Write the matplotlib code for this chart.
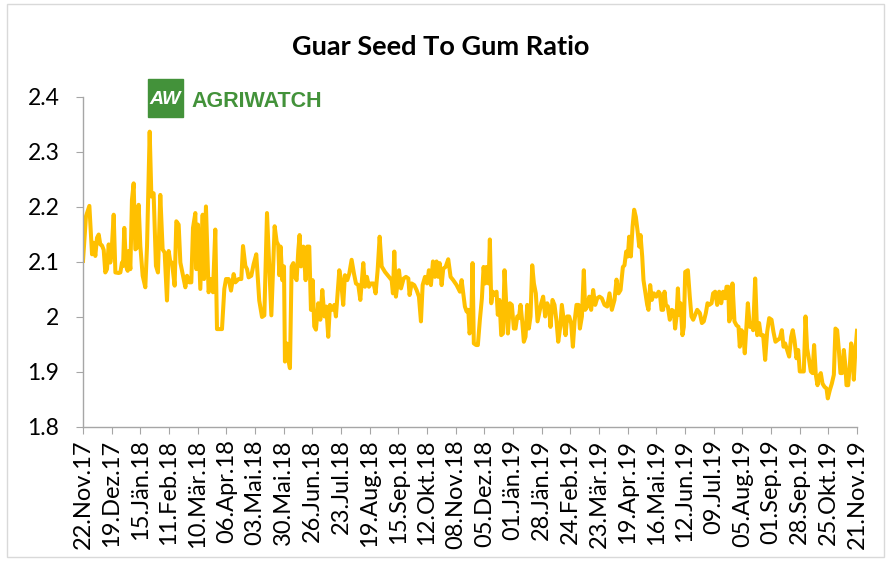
import numpy as np
import matplotlib.pyplot as plt
from matplotlib.patches import Rectangle

# day offsets counted from 22.Nov.17 and the seed/gum ratio
days_a = [0, 2.8, 6.0, 8.5, 10.0, 11.6, 13.2, 14.8, 16.3, 17.9,
          19.5, 21.0, 22.6, 24.2, 25.7, 26.7, 28.9, 30.5, 33.6, 35.2,
          36.7, 37.7, 38.9, 40.5, 42.1, 43.0, 44.6, 46.1, 47.7, 49.3,
          50.9, 52.4, 54.0, 56.2, 58.7, 60.3, 62.8, 64.4, 66.5, 68.7,
          70.6, 72.8, 75.0, 76.9, 79.1, 80.7, 82.3, 83.8, 86.3, 87.9,
          90.1, 91.7, 93.9, 96.4, 98.0, 100.1, 102.0, 103.6, 105.8, 106.7,
          108.3, 110.5, 112.7, 114.0, 115.8, 118.3, 120.5, 122.4, 124.6, 126.2,
          130.9, 133.1, 134.7, 137.2, 139.4, 141.9, 143.5, 146.6, 149.1, 150.7,
          152.9, 154.5, 156.0, 158.5, 160.7, 163.2, 166.0, 168.6, 170.8, 173.3,
          177.4, 180.5]
ratio_a = [2.102, 2.183, 2.202, 2.114, 2.135, 2.111, 2.144, 2.150, 2.132, 2.130,
           2.122, 2.081, 2.087, 2.132, 2.099, 2.111, 2.186, 2.081, 2.080, 2.081,
           2.099, 2.093, 2.162, 2.093, 2.084, 2.120, 2.087, 2.213, 2.243, 2.123,
           2.126, 2.204, 2.129, 2.075, 2.054, 2.129, 2.337, 2.219, 2.225, 2.093,
           2.081, 2.222, 2.123, 2.117, 2.030, 2.120, 2.099, 2.099, 2.057, 2.174,
           2.168, 2.099, 2.078, 2.054, 2.075, 2.063, 2.063, 2.162, 2.189, 2.087,
           2.168, 2.051, 2.186, 2.069, 2.201, 2.045, 2.069, 2.045, 2.159, 1.978,
           1.978, 2.051, 2.069, 2.069, 2.048, 2.078, 2.063, 2.069, 2.069, 2.129,
           2.093, 2.087, 2.072, 2.075, 2.096, 2.114, 2.030, 2.000, 2.003, 2.189,
           2.003, 2.165]

days_b = [182.4, 183.9, 184.9, 186.1, 187.7, 189.3, 190.2, 191.8, 193.4, 194.9,
          196.5, 198.1, 199.6, 201.2, 202.8, 204.0, 205.3, 207.5, 209.7, 211.2,
          213.1, 214.7, 216.3, 217.8, 219.4, 221.6, 223.5, 225.4, 227.3, 229.1,
          231.0, 232.6, 234.8, 236.7, 238.2, 239.8, 241.4, 243.0, 245.1, 246.7,
          248.9, 250.8, 253.0, 255.2, 257.1, 259.3, 261.2, 264.0, 265.6, 267.4,
          269.3, 271.2, 273.7, 275.6, 277.5, 279.4, 281.3, 284.4, 288.2, 290.7,
          291.9, 293.2, 294.7, 296.3, 297.6, 299.5, 302.0, 304.2, 306.4, 307.6,
          309.5, 312.0, 314.2, 316.4, 318.3, 319.9, 322.1, 324.0, 325.8, 327.7,
          329.6, 331.5, 333.0, 334.6, 335.9, 337.8, 339.3, 341.5, 344.0, 346.2,
          348.7, 351.9, 355.0, 356.6, 358.2, 359.7, 361.3, 362.9]
ratio_b = [2.137, 2.131, 2.076, 2.128, 2.067, 2.092, 1.919, 1.952, 1.922, 1.907,
           2.092, 2.098, 2.073, 2.067, 2.122, 2.149, 2.092, 2.128, 2.067, 2.128,
           2.128, 2.013, 2.067, 1.983, 1.977, 2.025, 1.995, 2.049, 2.001, 2.019,
           1.964, 2.022, 2.013, 2.022, 2.001, 2.043, 2.085, 2.067, 2.022, 2.076,
           2.067, 2.079, 2.104, 2.079, 2.061, 2.058, 2.031, 2.098, 2.055, 2.073,
           2.055, 2.061, 2.061, 2.043, 2.085, 2.146, 2.092, 2.082, 2.073, 2.067,
           2.043, 2.119, 2.037, 2.061, 2.085, 2.052, 2.070, 2.073, 2.070, 2.040,
           2.061, 2.058, 2.049, 2.037, 1.992, 2.058, 2.073, 2.061, 2.085, 2.058,
           2.101, 2.073, 2.101, 2.073, 2.098, 2.058, 2.088, 2.091, 2.105, 2.073,
           2.067, 2.058, 2.046, 2.067, 2.043, 2.019, 2.010, 2.013]

days_c = [364.1, 365.6, 366.9, 368.1, 370.3, 371.9, 373.8, 375.7, 377.3, 378.8,
          380.1, 382.0, 383.2, 384.5, 386.0, 387.6, 389.5, 390.7, 392.3, 393.9,
          395.5, 397.0, 398.6, 400.2, 402.1, 403.9, 405.8, 407.4, 409.0, 410.5,
          412.1, 413.7, 415.2, 416.8, 418.4, 419.9, 421.5, 423.1, 424.7, 426.5,
          428.1, 430.0, 431.6, 433.4, 435.3, 437.2, 439.1, 440.3, 442.2, 444.1,
          446.0, 447.6, 449.5, 451.0, 452.9, 454.5, 456.0, 457.9, 459.8, 461.4,
          463.0, 464.8, 466.7, 468.0, 469.9, 471.7, 473.0, 474.9, 476.8, 478.6,
          480.5, 482.4, 484.3, 486.5, 488.7, 491.2, 493.7, 495.9, 498.1, 500.6,
          502.5, 504.4, 506.3, 508.5, 510.0, 511.6, 513.2, 514.4, 516.0, 517.6,
          519.1, 520.7, 522.6, 523.9, 525.1, 526.7, 527.9, 529.8, 531.4, 532.6,
          534.2, 535.8, 537.7, 539.9, 542.1]
ratio_c = [1.970, 1.988, 2.098, 1.952, 1.949, 1.949, 1.995, 2.034, 2.091, 2.061,
           2.091, 2.061, 2.141, 2.025, 2.046, 2.040, 2.046, 2.004, 2.031, 1.967,
           1.970, 2.085, 2.025, 1.970, 2.025, 2.022, 1.979, 1.979, 2.001, 1.998,
           2.022, 1.992, 1.955, 1.964, 2.022, 1.979, 2.001, 2.094, 2.061, 2.043,
           1.992, 2.010, 2.025, 2.037, 2.001, 2.025, 2.016, 1.982, 2.031, 2.022,
           1.992, 1.955, 1.982, 2.022, 1.992, 1.967, 2.001, 2.001, 1.988, 1.946,
           1.992, 2.022, 2.022, 1.979, 2.001, 2.085, 2.013, 2.019, 2.037, 2.013,
           2.049, 2.022, 2.034, 2.037, 2.034, 2.022, 2.019, 2.043, 2.013, 2.031,
           2.068, 2.043, 2.049, 2.091, 2.094, 2.119, 2.110, 2.146, 2.110, 2.164,
           2.195, 2.182, 2.152, 2.128, 2.149, 2.110, 2.067, 2.043, 2.022, 2.013,
           2.058, 2.031, 2.043, 2.037, 2.046]

days_d = [543.3, 544.9, 546.4, 547.7, 549.0, 550.8, 552.7, 554.6, 556.5, 557.7,
          559.0, 560.3, 561.5, 562.8, 564.6, 565.9, 567.2, 569.7, 571.5, 573.1,
          574.7, 576.6, 578.5, 581.0, 582.9, 584.7, 586.6, 588.2, 589.8, 592.0,
          593.5, 595.4, 597.3, 599.2, 601.1, 602.9, 604.8, 606.1, 607.7, 608.6,
          610.2, 611.7, 613.6, 615.5, 617.4, 618.6, 620.2, 621.8, 623.3, 624.9,
          626.2, 628.1, 629.6, 631.2, 633.1, 635.0, 636.8, 638.4, 640.6, 642.5,
          644.4, 646.3, 648.5, 650.3, 652.2, 654.1, 656.3, 658.2, 659.8, 661.3,
          663.2, 665.1, 667.0, 668.5, 670.1, 672.0, 673.6, 675.1, 677.0, 678.9,
          680.5, 682.0, 683.9, 685.5, 687.1, 688.6, 690.2, 691.8, 693.3, 694.9,
          696.5, 698.4, 700.3, 701.5, 703.4, 705.3, 707.2, 708.7, 710.3, 711.9,
          713.4, 715.0, 716.6, 718.1, 719.1, 720.7, 722.2, 723.5, 724.7, 726.0,
          727.3, 729.0]
ratio_d = [2.043, 2.013, 2.013, 2.046, 2.022, 2.019, 1.995, 2.013, 2.010, 1.979,
           2.001, 2.052, 2.004, 2.025, 1.967, 1.982, 2.082, 2.085, 2.037, 2.001,
           1.995, 2.004, 2.013, 2.007, 1.989, 1.992, 2.007, 2.025, 2.022, 2.025,
           2.043, 2.046, 2.022, 2.046, 2.025, 2.046, 2.034, 2.055, 2.055, 1.992,
           2.001, 2.061, 1.992, 1.985, 1.982, 1.946, 1.976, 1.970, 1.934, 1.985,
           2.025, 1.982, 1.989, 1.976, 2.070, 1.967, 1.989, 1.967, 1.967, 1.922,
           1.973, 1.998, 1.995, 1.973, 1.955, 1.958, 1.961, 1.976, 1.946, 1.952,
           1.940, 1.928, 1.964, 1.976, 1.958, 1.925, 1.940, 1.901, 1.901, 1.901,
           2.001, 1.943, 1.922, 1.901, 1.898, 1.949, 1.895, 1.876, 1.892, 1.898,
           1.879, 1.873, 1.870, 1.852, 1.867, 1.879, 1.895, 1.979, 1.976, 1.940,
           1.898, 1.898, 1.940, 1.910, 1.876, 1.876, 1.910, 1.952, 1.940, 1.886,
           1.934, 1.975]

tick_days = list(range(0, 730, 27))
tick_labels = ['22.Nov.17', '19.Dez.17', '15.Jän.18', '11.Feb.18', '10.Mär.18',
               '06.Apr.18', '03.Mai.18', '30.Mai.18', '26.Jun.18', '23.Jul.18',
               '19.Aug.18', '15.Sep.18', '12.Okt.18', '08.Nov.18', '05.Dez.18',
               '01.Jän.19', '28.Jän.19', '24.Feb.19', '23.Mär.19', '19.Apr.19',
               '16.Mai.19', '12.Jun.19', '09.Jul.19', '05.Aug.19', '01.Sep.19',
               '28.Sep.19', '25.Okt.19', '21.Nov.19']
y_ticks = [1.8, 1.9, 2.0, 2.1, 2.2, 2.3, 2.4]
y_labels = ['1.8', '1.9', '2', '2.1', '2.2', '2.3', '2.4']

days = np.concatenate([days_a, days_b, days_c, days_d])
ratio = np.concatenate([ratio_a, ratio_b, ratio_c, ratio_d])
assert len(days) == len(ratio)

plt.rcParams['font.family'] = ['Lato', 'DejaVu Sans']

W, H = 890, 565
fig = plt.figure(figsize=(W / 100, H / 100), dpi=100)
ax = fig.add_axes([83 / W, 1 - 427 / H, (857 - 83) / W, (427 - 97) / H])

ax.plot(days, ratio, color='#FFC000', lw=2.9, solid_joinstyle='round')

ax.set_xlim(0, 729)
ax.set_ylim(1.8, 2.4)
ax.set_yticks(y_ticks)
ax.set_yticklabels(y_labels)
ax.set_xticks(tick_days)
ax.set_xticklabels(tick_labels, rotation=90)

for s in ['top', 'right']:
    ax.spines[s].set_visible(False)
for s in ['left', 'bottom']:
    ax.spines[s].set_color('#a6a6a6')
    ax.spines[s].set_linewidth(1)
ax.tick_params(axis='both', color='#a6a6a6', labelcolor='black', length=5)
ax.tick_params(axis='y', pad=12, labelsize=16.5)
ax.tick_params(axis='x', pad=4, labelsize=17)

fig.text(441 / W, 1 - 47 / H, 'Guar Seed To Gum Ratio', ha='center', va='center',
         fontsize=19.5, fontweight='bold')

# logo
fig.patches.append(Rectangle((148 / W, 1 - 117 / H), 35 / W, 38 / H,
                             transform=fig.transFigure, color='#43923a'))
fig.text(165.5 / W, 1 - 99 / H, 'AW', ha='center', va='center', color='white',
         fontsize=14, fontweight='bold', style='italic', family='Liberation Sans')
fig.text(191 / W, 1 - 101.5 / H, 'AGRIWATCH', ha='left', va='center', color='#43923a',
         fontsize=15.5, fontweight='bold', family='Liberation Sans')

# chart area border
fig.patches.append(Rectangle((7 / W, 1 - 557 / H), 877 / W, 553 / H, fill=False,
                             edgecolor='#d9d9d9', lw=1, transform=fig.transFigure))

fig.savefig('out.png', dpi=100)
